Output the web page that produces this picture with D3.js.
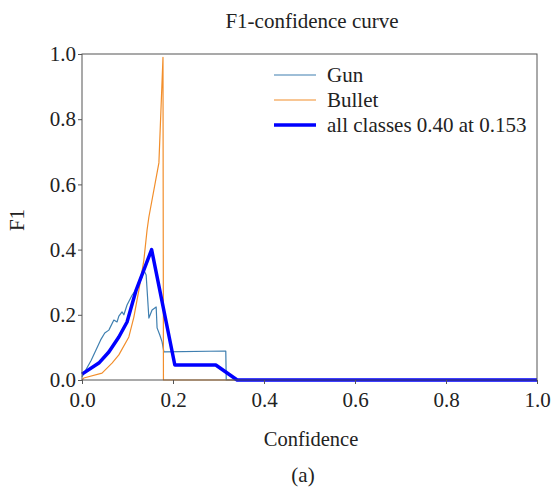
<!DOCTYPE html>
<html>
<head>
<meta charset="utf-8">
<script src="https://cdn.jsdelivr.net/npm/d3@7"></script>
<style>
  body { margin: 0; background: #fff; }
</style>
</head>
<body>
<svg id="chart" width="552" height="491"></svg>
<script>
// confidence / F1 pairs
const gunConf = [0, 0.02, 0.041, 0.05, 0.059, 0.07, 0.077, 0.081, 0.088, 0.092, 0.099, 0.11, 0.121, 0.132, 0.136, 0.141, 0.147, 0.154, 0.163, 0.165, 0.171, 0.176, 0.18, 0.316, 0.317, 1.0];
const gunF1 = [0.01, 0.06, 0.123, 0.144, 0.153, 0.184, 0.178, 0.196, 0.209, 0.2, 0.23, 0.26, 0.282, 0.316, 0.337, 0.322, 0.19, 0.215, 0.224, 0.16, 0.138, 0.117, 0.086, 0.089, 0, 0];

const bulletConf = [0, 0.004, 0.044, 0.066, 0.081, 0.103, 0.114, 0.125, 0.136, 0.143, 0.147, 0.169, 0.178, 0.179, 1.0];
const bulletF1 = [0, 0.006, 0.021, 0.052, 0.077, 0.132, 0.193, 0.276, 0.368, 0.46, 0.5, 0.666, 0.99, 0, 0];

const allConf = [0, 0.037, 0.059, 0.081, 0.099, 0.119, 0.153, 0.204, 0.294, 0.341, 1.0];
const allF1 = [0.018, 0.052, 0.086, 0.132, 0.178, 0.276, 0.40, 0.046, 0.046, 0, 0];

const xTicks = [0, 0.2, 0.4, 0.6, 0.8, 1.0];
const yTicks = [0, 0.2, 0.4, 0.6, 0.8, 1.0];

const series = [
  { name: "Gun", conf: gunConf, f1: gunF1, color: "#3f7fb0", width: 1.2 },
  { name: "Bullet", conf: bulletConf, f1: bulletF1, color: "#f28e2b", width: 1.2 },
  { name: "all classes 0.40 at 0.153", conf: allConf, f1: allF1, color: "#0000ff", width: 3.5 }
];

const FONT = "\"Liberation Serif\"";
const margin = { top: 54, right: 15, bottom: 111, left: 82 };
const width = 552, height = 491;

const svg = d3.select("#chart");

const x = d3.scaleLinear().domain([0, 1]).range([margin.left, width - margin.right]);
const y = d3.scaleLinear().domain([0, 1]).range([height - margin.bottom, margin.top]);

const line = d3.line()
  .x(d => x(d[0]))
  .y(d => y(d[1]));

// curves
series.forEach(s => {
  const pts = s.conf.map((c, i) => [c, s.f1[i]]);
  svg.append("path")
    .datum(pts)
    .attr("fill", "none")
    .attr("stroke", s.color)
    .attr("stroke-width", s.width)
    .attr("stroke-linejoin", "round")
    .attr("d", line);
});

// frame
svg.append("rect")
  .attr("x", x(0))
  .attr("y", y(1))
  .attr("width", x(1) - x(0))
  .attr("height", y(0) - y(1))
  .attr("fill", "none")
  .attr("stroke", "#555")
  .attr("stroke-width", 1);

const xAxis = d3.axisBottom(x)
  .tickValues(xTicks)
  .tickFormat(d3.format(".1f"))
  .tickSizeOuter(0)
  .tickSize(4);

const yAxis = d3.axisLeft(y)
  .tickValues(yTicks)
  .tickFormat(d3.format(".1f"))
  .tickSizeOuter(0)
  .tickSize(4);

const gx = svg.append("g")
  .attr("transform", "translate(0," + y(0) + ")")
  .call(xAxis);
gx.select(".domain").remove();
gx.selectAll("line").attr("stroke", "#555");
gx.selectAll("text")
  .style("font-family", FONT)
  .style("font-size", "21px")
  .attr("dy", "0.93em")
  .attr("fill", "#222");

const gy = svg.append("g")
  .attr("transform", "translate(" + x(0) + ",0)")
  .call(yAxis);
gy.select(".domain").remove();
gy.selectAll("line").attr("stroke", "#555");
gy.selectAll("text")
  .style("font-family", FONT)
  .style("font-size", "21px")
  .attr("dx", "0.05em")
  .attr("fill", "#222");

// titles
function label(txt, size) {
  return svg.append("text")
    .style("font-family", FONT)
    .style("font-size", size + "px")
    .attr("fill", "#222")
    .attr("text-anchor", "middle")
    .text(txt);
}

label("F1-confidence curve", 21).attr("x", 312).attr("y", 28);
label("Confidence", 20.5).attr("x", 311).attr("y", 446);
label("F1", 21).attr("transform", "translate(24,220) rotate(-90)");
label("(a)", 21).attr("x", 303).attr("y", 482);

// legend
series.forEach((s, i) => {
  const ly = 75 + i * 25;
  svg.append("line")
    .attr("x1", 274).attr("x2", 316)
    .attr("y1", ly).attr("y2", ly)
    .attr("stroke", s.color)
    .attr("stroke-width", s.width);
  svg.append("text")
    .attr("x", 327).attr("y", ly)
    .attr("dy", "0.33em")
    .style("font-family", FONT)
    .style("font-size", "21px")
    .attr("fill", "#222")
    .text(s.name);
});
</script>
</body>
</html>
